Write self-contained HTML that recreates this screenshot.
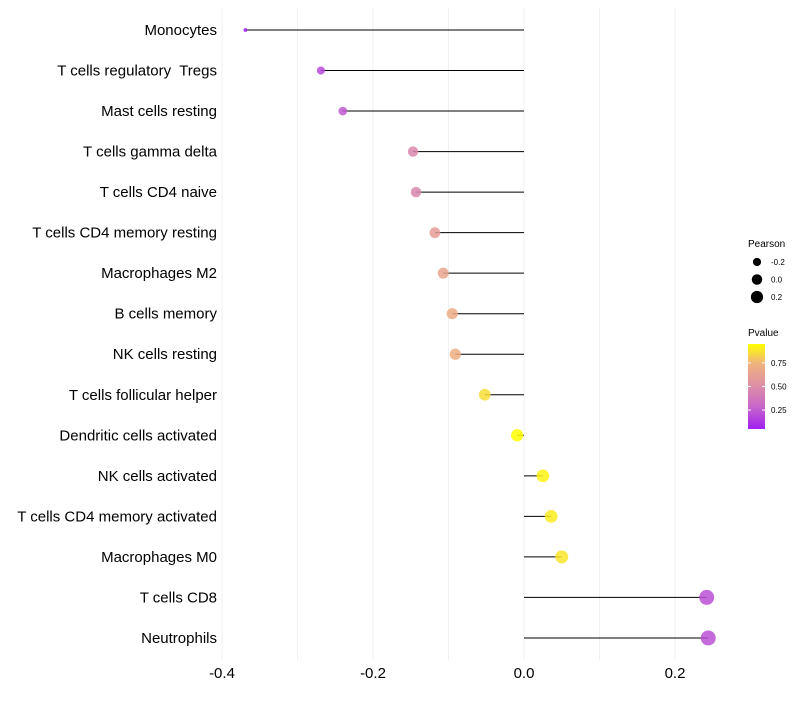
<!DOCTYPE html>
<html><head><meta charset="utf-8"><style>
body{margin:0;background:#fff;font-family:"Liberation Sans",sans-serif;}
svg text{font-family:"Liberation Sans",sans-serif;white-space:pre;}
</style></head><body>
<svg id="chart" width="800" height="700"></svg>
<script>
const categories=["Monocytes","T cells regulatory  Tregs","Mast cells resting","T cells gamma delta","T cells CD4 naive","T cells CD4 memory resting","Macrophages M2","B cells memory","NK cells resting","T cells follicular helper","Dendritic cells activated","NK cells activated","T cells CD4 memory activated","Macrophages M0","T cells CD8","Neutrophils"];
const pearson=[-0.369,-0.269,-0.240,-0.147,-0.143,-0.118,-0.107,-0.095,-0.091,-0.052,-0.009,0.025,0.036,0.050,0.242,0.244];
const pvalues=[0.06,0.2,0.25,0.47,0.47,0.6,0.65,0.7,0.71,0.86,0.95,0.92,0.9,0.88,0.22,0.22];
const xTicks=[-0.4,-0.2,0.0,0.2];
const xTickLabels=["-0.4","-0.2","0.0","0.2"];
const minorTicks=[-0.3,-0.1,0.1];
const legendSizes=[-0.2,0.0,0.2];
const legendColorTicks=[0.25,0.50,0.75];

const NS="http://www.w3.org/2000/svg";
const svg=document.getElementById('chart');
function mk(t,a,p){const e=document.createElementNS(NS,t);for(const k in a)e.setAttribute(k,a[k]);(p||svg).appendChild(e);return e;}
const x=v=>524+v*755;
const y=i=>30+i*40.53;
const rr=v=>1.7+5.8*Math.sqrt(Math.max(0,(v+0.37))/0.614);
const cStops=[[0.06,[160,32,240]],[0.3,[200,104,200]],[0.5,[220,140,168]],[0.75,[240,180,124]],[0.95,[255,255,0]]];
function col(p){p=Math.max(0.06,Math.min(0.95,p));
 for(let i=0;i<cStops.length-1;i++){const [p0,a]=cStops[i],[p1,b]=cStops[i+1];
  if(p<=p1){const t=(p-p0)/(p1-p0);const c=a.map((u,k)=>Math.round(u+(b[k]-u)*t));return `rgb(${c[0]},${c[1]},${c[2]})`;}}
 return 'rgb(255,255,0)';}

[...xTicks,...minorTicks].forEach(v=>{const g=mk('line',{x1:x(v),x2:x(v),y1:8,y2:660,stroke:'#f0f0f0','stroke-width':1});
});
xTicks.forEach((v,i)=>{const t=mk('text',{x:x(v),y:678,'font-size':15,'text-anchor':'middle',fill:'#000'});t.textContent=xTickLabels[i];
});
categories.forEach((c,i)=>{
 const t=mk('text',{x:217,y:y(i)+5,'font-size':15,'text-anchor':'end',fill:'#000'});t.textContent=c;
 
 const l=mk('line',{x1:x(0),x2:x(pearson[i]),y1:y(i),y2:y(i),stroke:'#000','stroke-width':1});
 
 const d=mk('circle',{cx:x(pearson[i]),cy:y(i),r:rr(pearson[i]),fill:col(pvalues[i]),'fill-opacity':0.85});
 
});
let lt=mk('text',{x:748,y:247,'font-size':10});lt.textContent='Pearson';

legendSizes.forEach((v,i)=>{const cy=262+i*17.5;
 const c=mk('circle',{cx:757,cy:cy,r:rr(v)*0.8+0.3,fill:'#000'});
 
 const t=mk('text',{x:771,y:cy+3,'font-size':8});t.textContent=v.toFixed(1);
 });
lt=mk('text',{x:748,y:336,'font-size':10});lt.textContent='Pvalue';

const defs=mk('defs',{});const gr=mk('linearGradient',{id:'pg',x1:0,y1:1,x2:0,y2:0},defs);
cStops.forEach(s=>mk('stop',{offset:(s[0]-0.06)/0.89,'stop-color':`rgb(${s[1].join(',')})`},gr));
const bar=mk('rect',{x:748,y:344,width:17,height:85,fill:'url(#pg)'});

const py=p=>428-(p-0.06)/0.89*84;
legendColorTicks.forEach(v=>{mk('line',{x1:748,x2:751,y1:py(v),y2:py(v),stroke:'#fff'});mk('line',{x1:762,x2:765,y1:py(v),y2:py(v),stroke:'#fff'});
 const t=mk('text',{x:771,y:py(v)+3,'font-size':8});t.textContent=v.toFixed(2);
 });
</script>
</body></html>
